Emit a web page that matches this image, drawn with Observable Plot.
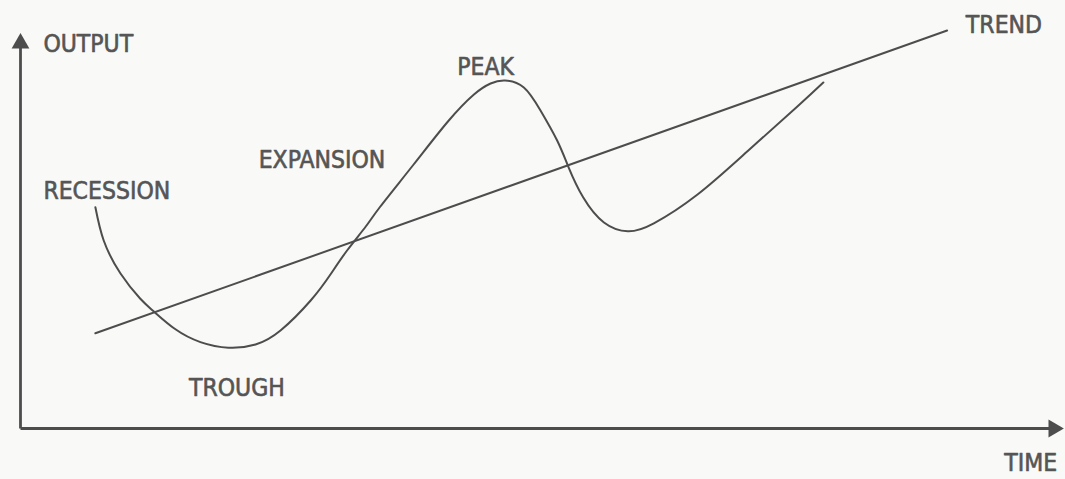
<!DOCTYPE html>
<html>
<head>
<meta charset="utf-8">
<script src="https://cdn.jsdelivr.net/npm/d3@7"></script>
<script src="https://cdn.jsdelivr.net/npm/@observablehq/plot@0.6"></script>
<style>
  html, body { margin: 0; padding: 0; background: #f9f9f8; }
  #chart svg { display: block; }
  #chart text { font-stretch: condensed; }
</style>
</head>
<body>
<div id="chart"></div>
<script>
// Business cycle: time (0–100) vs output (0–100), abstract units
const cycleTime   = [7.2, 8.0, 9.6, 11.5, 12.8, 14.9, 17.3, 20.0, 22.6, 25.0, 27.9, 29.8, 31.4, 33.2, 34.6, 37.8, 41.1, 43.6, 45.2, 46.6, 48.4, 50.0, 51.6, 52.7, 54.1, 56.1, 58.4, 60.9, 65.1, 69.9, 74.7, 77.2];
const cycleOutput = [55.3, 47.0, 38.8, 32.5, 29.3, 24.8, 21.6, 20.2, 21.0, 24.5, 32.0, 38.5, 44.5, 50.5, 55.5, 66.0, 76.75, 83.5, 86.25, 87.0, 85.25, 79.5, 72.0, 65.3, 57.8, 51.5, 49.3, 51.3, 58.5, 69.3, 80.5, 86.5];

const trendTime   = [7.2, 89.1];
const trendOutput = [23.8, 99.5];

// axis extents (origin to arrow tip)
const axisNames = ["TIME", "OUTPUT"];
const axisEndTime   = [100.3, 0];
const axisEndOutput = [0, 98.8];

// annotation labels
const labelText   = ["OUTPUT", "RECESSION", "EXPANSION", "PEAK", "TREND", "TROUGH", "TIME"];
const labelTime   = [2.2, 2.2, 22.9, 42.0, 90.9, 16.2, 94.6];
const labelOutput = [96.0, 59.25, 67.0, 90.25, 100.75, 10.0, -8.6];

const cycle = cycleTime.map((t, i) => ({t, o: cycleOutput[i]}));
const trend = trendTime.map((t, i) => ({t, o: trendOutput[i]}));
const axes = axisNames.map((name, i) => ({name, t: axisEndTime[i], o: axisEndOutput[i]}));
const labels = labelText.map((text, i) => ({text, t: labelTime[i], o: labelOutput[i]}));

const ink = "#4d4d4d";
const font = "'DejaVu Sans Condensed', 'DejaVu Sans', sans-serif";

const chart = Plot.plot({
  width: 1065,
  height: 479,
  margin: 0,
  style: {background: "#f9f9f8", fontFamily: font},
  x: {domain: [0, 100], range: [20, 1060], axis: null},
  y: {domain: [0, 100], range: [428, 28], axis: null},
  marks: [
    // axes
    Plot.link(axes, {x1: 0, y1: 0, x2: d => d.name === "TIME" ? d.t - 1.2 : 0, y2: d => d.name === "OUTPUT" ? d.o - 3.5 : 0, stroke: ink, strokeWidth: 2.8}),
    Plot.dot(axes.filter(d => d.name === "OUTPUT"), {x: "t", y: "o", symbol: "triangle", r: 6.6, fill: ink, stroke: "none", dy: 10}),
    Plot.dot(axes.filter(d => d.name === "TIME"), {x: "t", y: "o", symbol: "triangle", r: 6.6, fill: ink, stroke: "none", rotate: 90, dx: -10}),
    // trend
    Plot.line(trend, {x: "t", y: "o", stroke: ink, strokeWidth: 2}),
    // cycle
    Plot.line(cycle, {x: "t", y: "o", stroke: ink, strokeWidth: 2, curve: "natural"}),
    // labels
    Plot.text(labels, {x: "t", y: "o", text: "text", textAnchor: "start", fontSize: 24.5, fill: "#555", stroke: "#555", strokeWidth: 0.6, fontFamily: font})
  ]
});
document.getElementById("chart").append(chart);
</script>
</body>
</html>
